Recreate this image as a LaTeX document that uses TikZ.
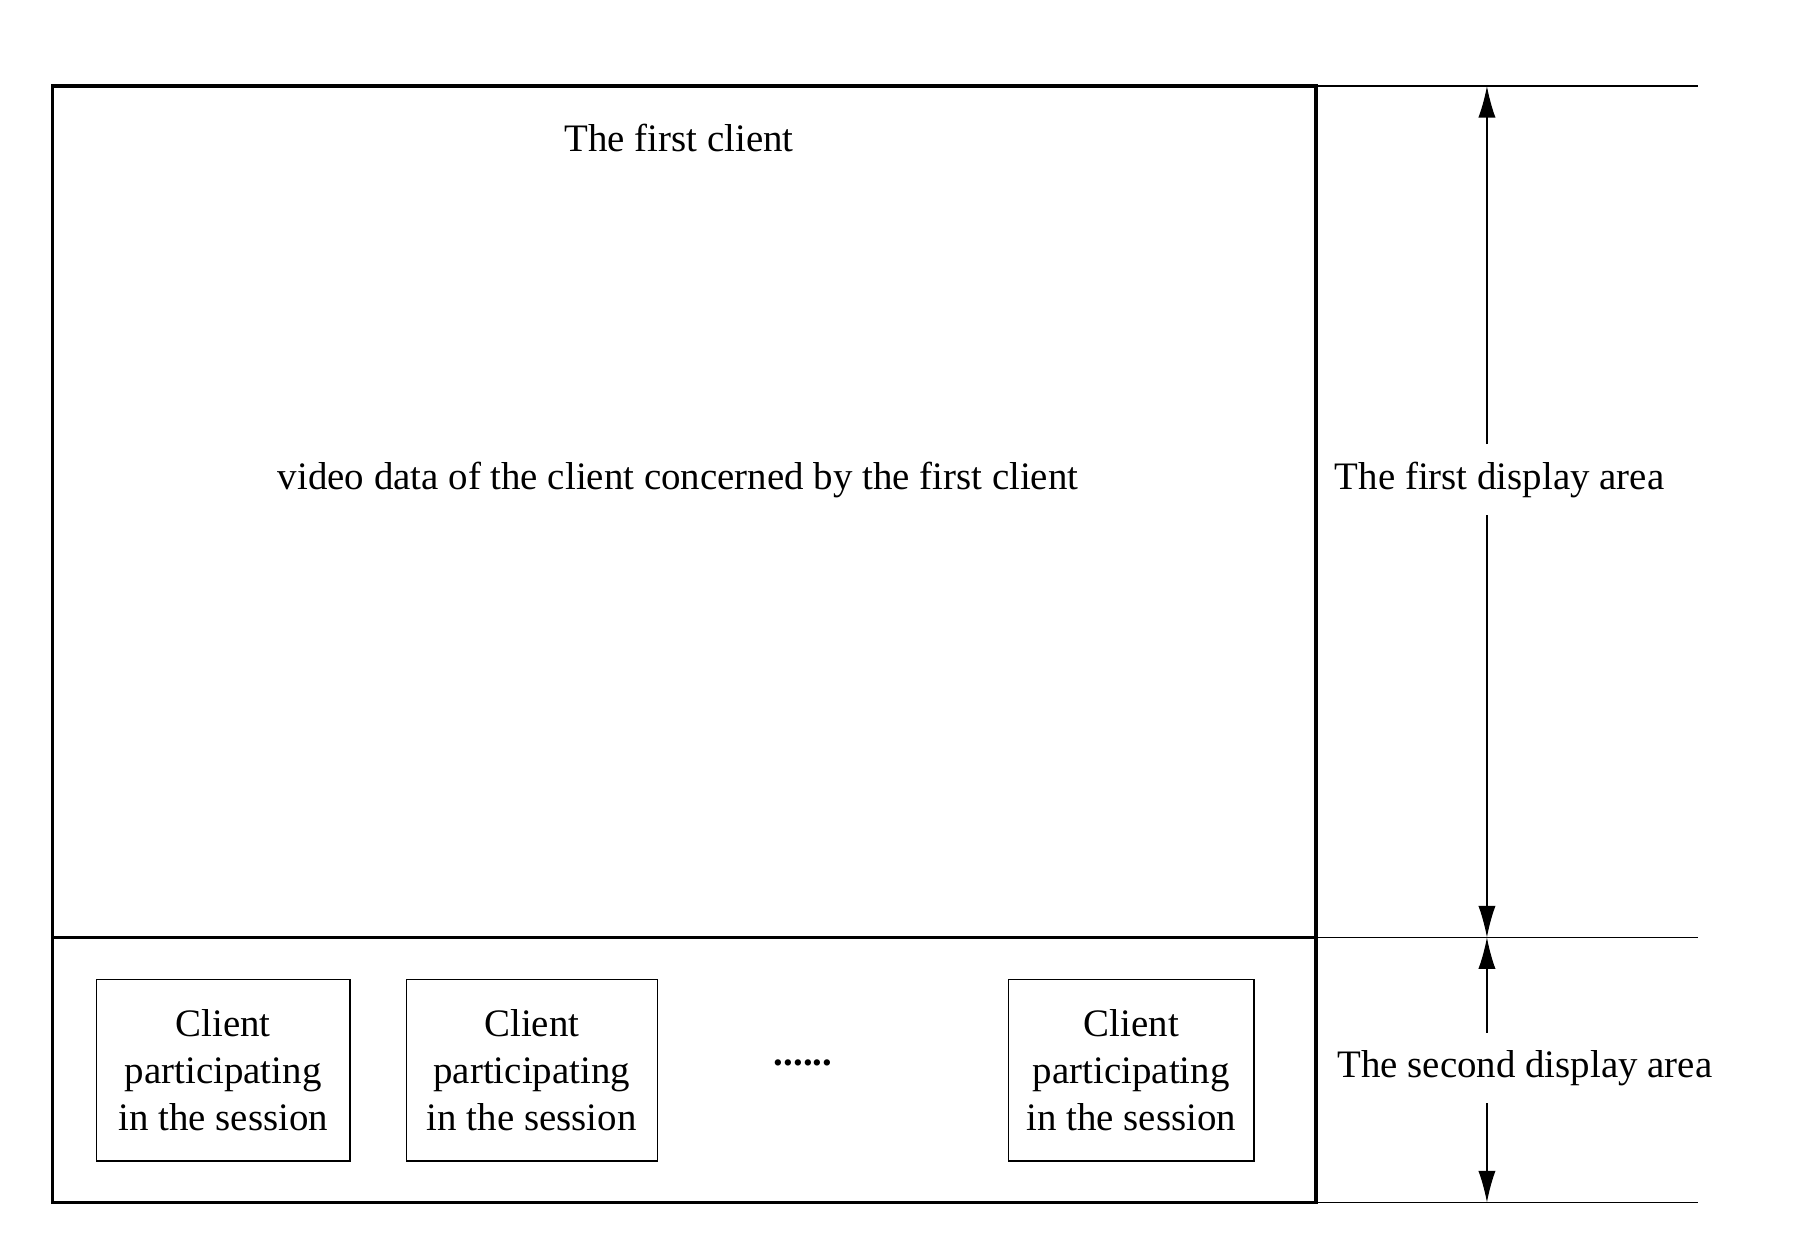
\documentclass[tikz,border=0pt]{standalone}
\usepackage{fontspec}
\setmainfont{Liberation Serif}
\usetikzlibrary{arrows.meta}
\tikzset{
    frame/.style={line width=1.7pt},
    thinline/.style={line width=0.6pt},
    clientbox/.style={
        draw,
        thinline,
        minimum height=3.16cm,
        align=center,
        inner sep=0
    },
    dimarrow/.style={
        thinline,
        -{Latex[length=0.55cm,width=0.3cm]}
    },
    label/.style={inner sep=0.1cm}
}

\begin{document}
\begin{tikzpicture}[x=0.02cm, y=-0.02cm, font=\fontsize{19.3}{23.3}\selectfont]
    \useasboundingbox (0,0) rectangle (1568,1086);
    % window frame
    \draw[frame] (46,75) rectangle (1147,1048);
    \draw[frame] (46,817) -- (1147,817);
    \node[label] (first) at (592,120) {The first client};
    \node[label] (video) at (591,418) {video data of the client concerned by the first client};
    % clients in the second area
    \node[clientbox, minimum width=4.42cm] (c1) at (194.5,933) {Client\\participating\\in the session};
    \node[clientbox, minimum width=4.38cm] (c2) at (463.5,933) {Client\\participating\\in the session};
    \node[clientbox, minimum width=4.28cm] (c3) at (986,933) {Client\\participating\\in the session};
    \node[label] (dots) at (700,926) {\textbf{......}};
    % dimension lines
    \draw[thinline] (1147,75) -- (1480,75);
    \draw[thinline] (1147,817) -- (1480,817);
    \draw[thinline] (1147,1048) -- (1480,1048);
    \coordinate (top) at (1296,75);
    \coordinate (mid) at (1296,817);
    \coordinate (bot) at (1296,1048);
    \node[label, inner sep=0.3cm] (area1) at (1307,418) {The first display area};
    \node[label, inner sep=0.3cm] (area2) at (1329,931) {The second display area};
    \draw[dimarrow] (area1.north -| top) -- (top);
    \draw[dimarrow] (area1.south -| top) -- (mid);
    \draw[dimarrow] (area2.north -| top) -- (mid);
    \draw[dimarrow] (area2.south -| top) -- (bot);
\end{tikzpicture}
\end{document}
